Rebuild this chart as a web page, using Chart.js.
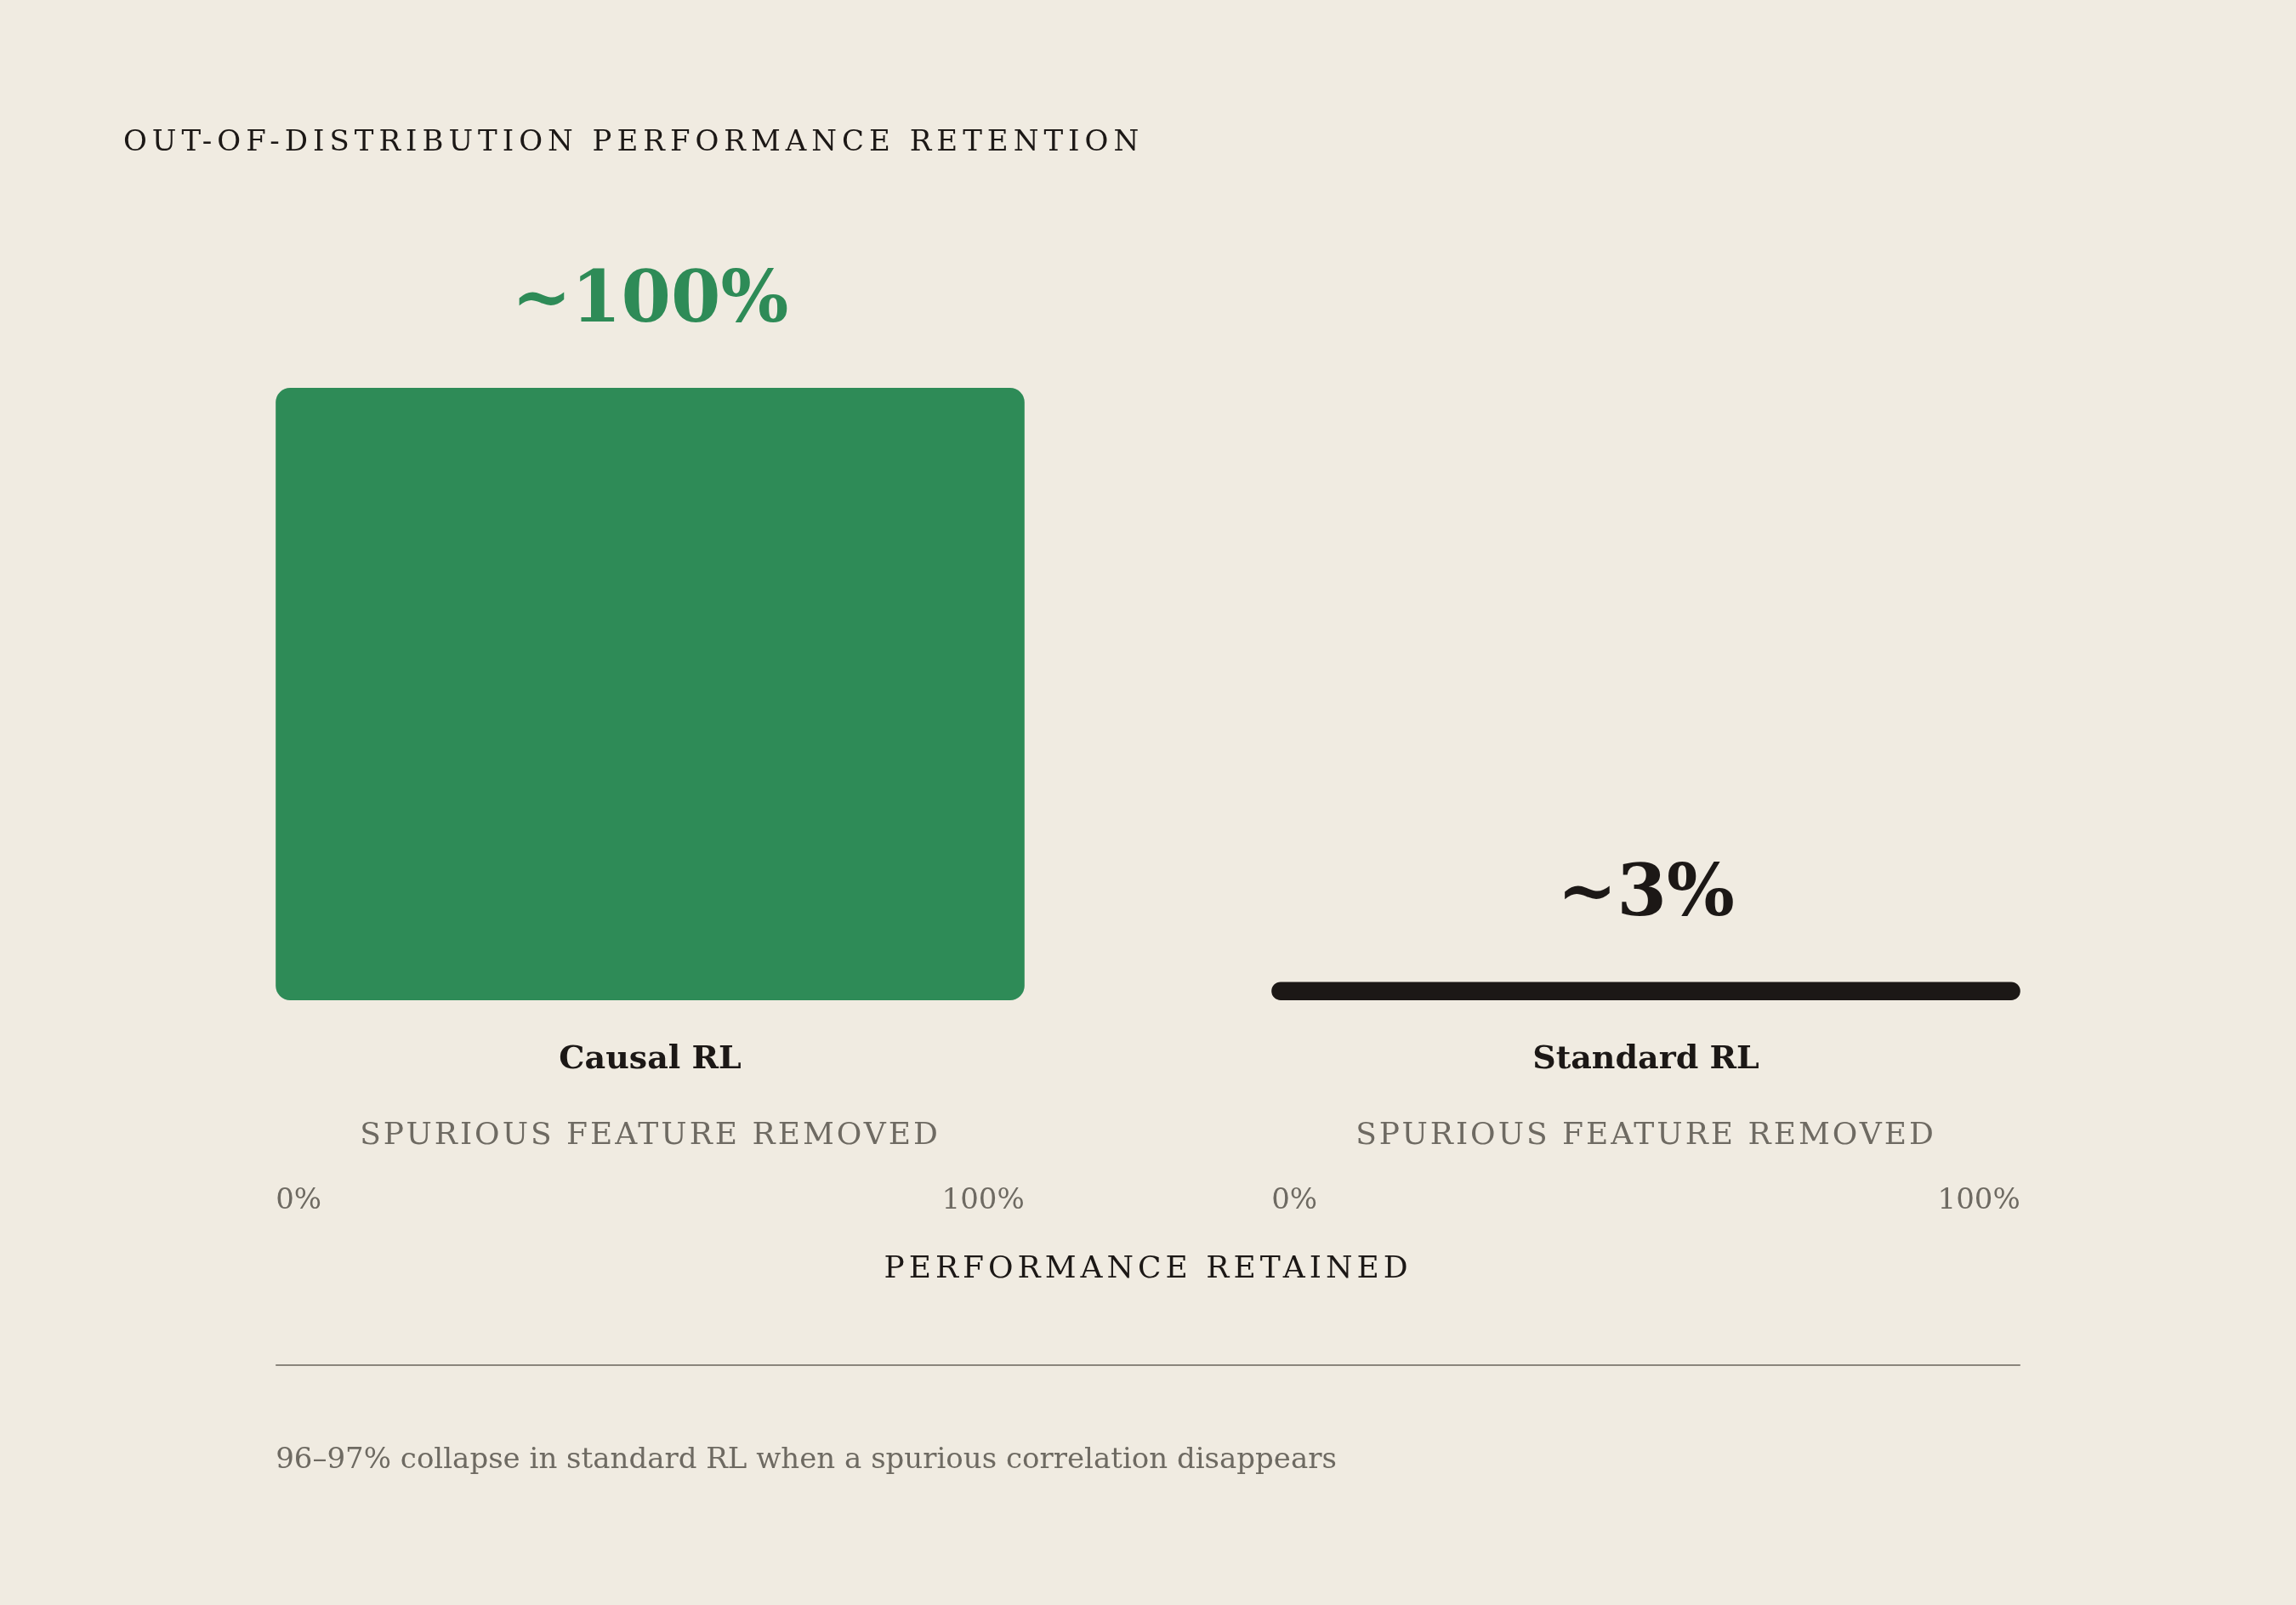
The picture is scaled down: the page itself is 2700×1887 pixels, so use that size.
<!DOCTYPE html>
<html>
<head>
<meta charset="utf-8">
<script src="https://cdn.jsdelivr.net/npm/chart.js@4"></script>
<style>
  html, body { margin: 0; padding: 0; background: #f0ebe1; }
  #wrap { width: 2700px; height: 1887px; }
</style>
</head>
<body>
<div id="wrap"><canvas id="chart"></canvas></div>
<script>
var categories = ['Causal RL', 'Standard RL'];
var retained = [100, 3];
var valueLabels = ['~100%', '~3%'];
var subLabels = ['SPURIOUS FEATURE REMOVED', 'SPURIOUS FEATURE REMOVED'];
var tickLabels = ['0%', '100%'];

var SERIF = '"DejaVu Serif", "Liberation Serif", serif';
var green = '#2e8b57';
var ink = '#1c1816';
var grey = '#6e6a62';

var textPlugin = {
  id: 'texts',
  afterDatasetsDraw: function(chart) {
    var ctx = chart.ctx;
    var meta = chart.getDatasetMeta(0);
    ctx.save();
    ctx.textBaseline = 'middle';

    ctx.fillStyle = ink;
    ctx.textAlign = 'left';
    ctx.font = '34px ' + SERIF;
    ctx.letterSpacing = '6px';
    ctx.fillText('OUT-OF-DISTRIBUTION PERFORMANCE RETENTION', 145, 168);

    var bottom = chart.scales.y.getPixelForValue(0);
    meta.data.forEach(function(bar, i) {
      var cx = bar.x;
      var left = bar.x - bar.width / 2;
      var right = bar.x + bar.width / 2;
      ctx.letterSpacing = '0px';
      ctx.textAlign = 'center';
      ctx.fillStyle = i === 0 ? green : ink;
      ctx.font = 'bold 84px ' + SERIF;
      ctx.fillText(valueLabels[i], cx, bar.y - 100);

      ctx.fillStyle = ink;
      ctx.font = 'bold 38px ' + SERIF;
      ctx.fillText(categories[i], cx, bottom + 70);

      ctx.fillStyle = grey;
      ctx.font = '36px ' + SERIF;
      ctx.letterSpacing = '3px';
      ctx.fillText(subLabels[i], cx, bottom + 160);

      ctx.letterSpacing = '0px';
      ctx.font = '34px ' + SERIF;
      ctx.textAlign = 'left';
      ctx.fillText(tickLabels[0], left, bottom + 236);
      ctx.textAlign = 'right';
      ctx.fillText(tickLabels[1], right, bottom + 236);
    });

    var first = meta.data[0], last = meta.data[meta.data.length - 1];
    var x0 = first.x - first.width / 2, x1 = last.x + last.width / 2;
    ctx.textAlign = 'center';
    ctx.fillStyle = ink;
    ctx.font = '36px ' + SERIF;
    ctx.letterSpacing = '5px';
    ctx.fillText('PERFORMANCE RETAINED', (x0 + x1) / 2, bottom + 317);

    ctx.strokeStyle = '#8a857c';
    ctx.lineWidth = 2;
    ctx.beginPath();
    ctx.moveTo(x0, 1605);
    ctx.lineTo(x1, 1605);
    ctx.stroke();

    ctx.letterSpacing = '0px';
    ctx.textAlign = 'left';
    ctx.fillStyle = grey;
    ctx.font = '34px ' + SERIF;
    ctx.fillText('96\u201397% collapse in standard RL when a spurious correlation disappears', x0, 1717);
    ctx.restore();
  }
};

var ctx = document.getElementById('chart').getContext('2d');
new Chart(ctx, {
  type: 'bar',
  data: {
    labels: categories,
    datasets: [{
      data: retained,
      backgroundColor: [green, ink],
      borderRadius: [17, 11],
      borderSkipped: false,
      barPercentage: 1,
      categoryPercentage: 0.752
    }]
  },
  options: {
    responsive: true,
    maintainAspectRatio: false,
    animation: false,
    layout: { padding: { left: 179, right: 179, top: 456, bottom: 711 } },
    plugins: { legend: { display: false }, tooltip: { enabled: false } },
    scales: {
      x: { display: false },
      y: { display: false, min: 0, max: 100 }
    }
  },
  plugins: [textPlugin]
});
</script>
</body>
</html>
